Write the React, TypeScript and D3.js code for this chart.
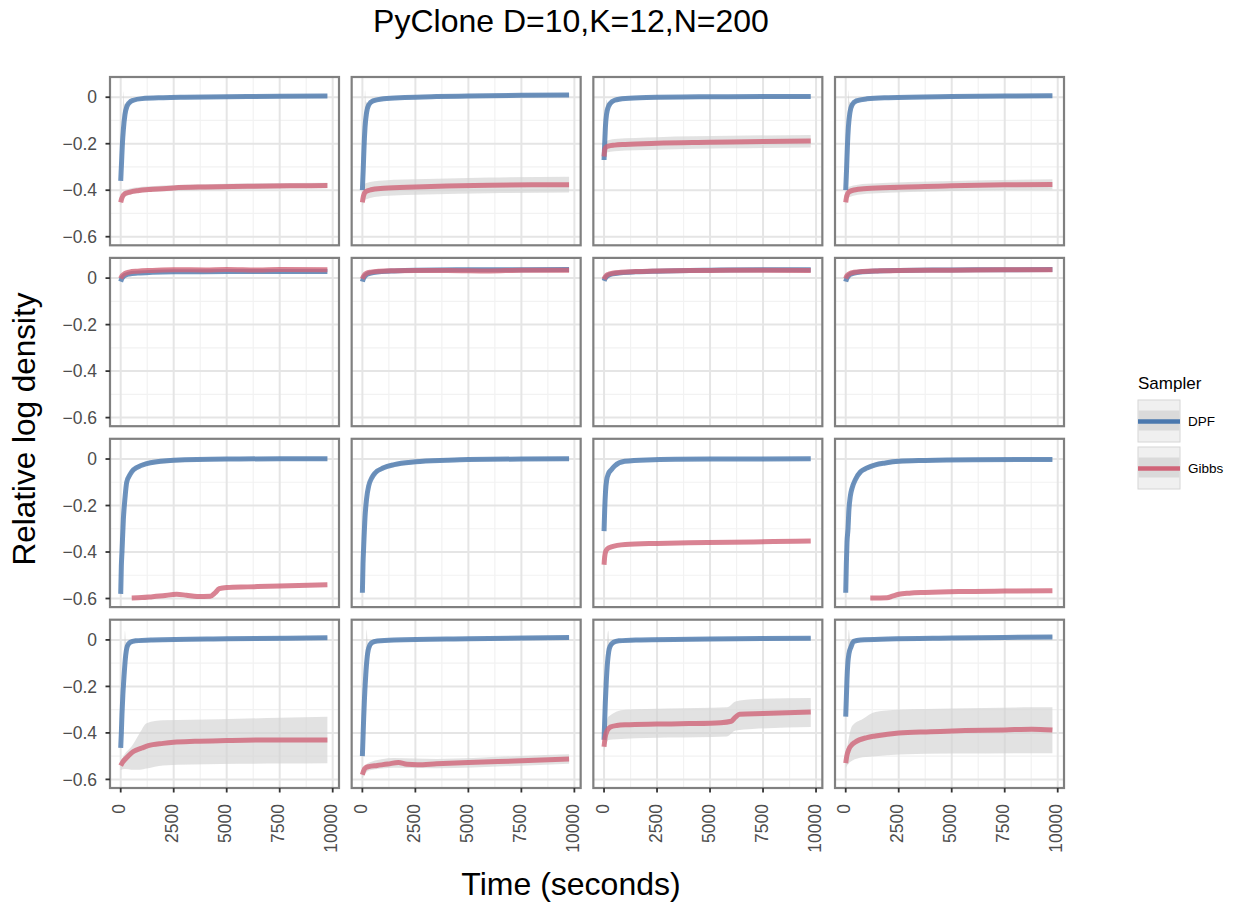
import React from "react";
import * as d3 from "d3";

type P = [number, number];
type B = [number, number, number];

const TITLE = "PyClone D=10,K=12,N=200";
const X_TITLE = "Time (seconds)";
const Y_TITLE = "Relative log density";
const X_TICKS = [0, 2500, 5000, 7500, 10000];
const X_MINOR = [1250, 3750, 6250, 8750];
const Y_TICKS = [0, -0.2, -0.4, -0.6];
const Y_MINOR = [-0.1, -0.3, -0.5];
const SAMPLERS = ["DPF", "Gibbs"];
const COLORS = ["#4a78ae", "#d06478"];

// ---- Row 1 ----
const DPF_11: P[] = [[0,-0.36],[40,-0.28],[80,-0.2],[125,-0.14],[200,-0.075],[300,-0.038],[400,-0.024],[600,-0.013],[1000,-0.006],[2000,-0.002],[3000,0],[5000,0.002],[7500,0.004],[9750,0.005]];
const DPF_11_BAND: B[] = [[0,-0.37,-0.35],[40,-0.3,-0.26],[80,-0.23,-0.15],[125,-0.17,0.025],[170,-0.11,-0.03],[250,-0.07,-0.03],[400,-0.032,-0.016],[1000,-0.012,0],[3000,-0.006,0.006],[9750,-0.002,0.012]];
const GIBBS_11: P[] = [[0,-0.452],[50,-0.435],[100,-0.425],[200,-0.415],[440,-0.408],[800,-0.402],[1500,-0.396],[2500,-0.39],[4000,-0.386],[6000,-0.383],[8000,-0.381],[9750,-0.38]];
const GIBBS_11_BAND: B[] = [[0,-0.465,-0.44],[200,-0.428,-0.4],[1000,-0.41,-0.385],[5000,-0.397,-0.372],[9750,-0.392,-0.368]];

const DPF_12: P[] = [[0,-0.4],[40,-0.31],[80,-0.21],[125,-0.13],[200,-0.065],[300,-0.033],[500,-0.016],[1000,-0.007],[2000,-0.001],[3500,0.003],[5000,0.005],[7500,0.008],[9750,0.01]];
const DPF_12_BAND: B[] = [[0,-0.41,-0.39],[40,-0.33,-0.29],[80,-0.24,-0.15],[125,-0.16,0.03],[170,-0.1,-0.02],[250,-0.06,-0.025],[500,-0.024,-0.008],[1000,-0.013,-0.001],[3000,-0.004,0.008],[9750,0.004,0.016]];
const GIBBS_12: P[] = [[0,-0.452],[50,-0.425],[150,-0.407],[400,-0.398],[1000,-0.392],[2500,-0.386],[4000,-0.382],[6000,-0.379],[8000,-0.377],[9750,-0.376]];
const GIBBS_12_BAND: B[] = [[0,-0.47,-0.435],[150,-0.44,-0.37],[1000,-0.425,-0.358],[3000,-0.418,-0.352],[6000,-0.413,-0.345],[9750,-0.41,-0.342]];

const DPF_13: P[] = [[0,-0.27],[30,-0.2],[70,-0.12],[120,-0.072],[200,-0.042],[300,-0.026],[500,-0.013],[1000,-0.005],[2000,-0.001],[5000,0.002],[7500,0.003],[9750,0.003]];
const DPF_13_BAND: B[] = [[0,-0.28,-0.26],[30,-0.22,-0.18],[70,-0.14,-0.08],[110,-0.09,-0.01],[170,-0.06,-0.025],[300,-0.034,-0.018],[1000,-0.011,0.001],[9750,-0.003,0.009]];
const GIBBS_13: P[] = [[0,-0.255],[30,-0.228],[80,-0.216],[200,-0.21],[500,-0.206],[1000,-0.203],[2500,-0.198],[5000,-0.194],[7500,-0.19],[9750,-0.188]];
const GIBBS_13_BAND: B[] = [[0,-0.27,-0.24],[80,-0.24,-0.19],[500,-0.232,-0.18],[2500,-0.226,-0.172],[6000,-0.22,-0.166],[9750,-0.216,-0.162]];

const DPF_14: P[] = [[0,-0.4],[40,-0.31],[80,-0.21],[125,-0.13],[200,-0.065],[300,-0.033],[500,-0.016],[1000,-0.007],[2000,-0.002],[5000,0.003],[7500,0.005],[9750,0.006]];
const DPF_14_BAND: B[] = [[0,-0.41,-0.39],[40,-0.33,-0.29],[80,-0.24,-0.15],[125,-0.16,0.03],[170,-0.1,-0.02],[250,-0.06,-0.025],[500,-0.024,-0.008],[1000,-0.013,-0.001],[3000,-0.006,0.006],[9750,0,0.012]];
const GIBBS_14: P[] = [[0,-0.452],[50,-0.425],[150,-0.408],[400,-0.399],[1000,-0.393],[2500,-0.387],[5000,-0.381],[7500,-0.377],[9750,-0.375]];
const GIBBS_14_BAND: B[] = [[0,-0.465,-0.44],[150,-0.43,-0.385],[1000,-0.415,-0.372],[5000,-0.403,-0.36],[9750,-0.397,-0.353]];

// ---- Row 2 ----
const DPF_21: P[] = [[0,-0.015],[40,-0.005],[100,0.004],[200,0.012],[400,0.018],[800,0.022],[1500,0.025],[2500,0.027],[5000,0.028],[7500,0.029],[9750,0.028]];
const GIBBS_21: P[] = [[0,-0.002],[40,0.006],[100,0.013],[200,0.02],[400,0.026],[800,0.03],[1500,0.033],[2500,0.036],[4000,0.035],[5000,0.037],[6500,0.035],[7500,0.037],[9750,0.036]];
const DPF_22: P[] = [[0,-0.015],[40,-0.004],[100,0.006],[200,0.015],[400,0.022],[800,0.027],[1500,0.031],[2500,0.034],[5000,0.036],[7500,0.036],[9750,0.037]];
const GIBBS_22: P[] = [[0,-0.003],[40,0.006],[100,0.014],[200,0.021],[400,0.026],[800,0.03],[1500,0.032],[2500,0.033],[4000,0.033],[6000,0.031],[7500,0.034],[9750,0.034]];
const DPF_23: P[] = [[0,-0.012],[40,-0.003],[100,0.005],[200,0.012],[400,0.018],[800,0.023],[1500,0.027],[2500,0.03],[5000,0.034],[7500,0.036],[9750,0.036]];
const GIBBS_23: P[] = [[0,-0.005],[40,0.003],[100,0.01],[200,0.016],[400,0.021],[800,0.025],[1500,0.028],[2500,0.031],[5000,0.033],[7500,0.034],[9750,0.033]];
const DPF_24: P[] = [[0,-0.015],[40,-0.004],[100,0.006],[200,0.015],[400,0.022],[800,0.027],[1500,0.031],[2500,0.033],[5000,0.035],[7500,0.036],[9750,0.037]];
const GIBBS_24: P[] = [[0,-0.002],[40,0.007],[100,0.014],[200,0.02],[400,0.025],[800,0.029],[1500,0.031],[2500,0.033],[5000,0.034],[7500,0.036],[9750,0.036]];

// ---- Row 3 ----
const DPF_31: P[] = [[0,-0.58],[30,-0.46],[60,-0.4],[125,-0.26],[200,-0.17],[283,-0.1],[450,-0.065],[600,-0.046],[1000,-0.027],[1400,-0.016],[2500,-0.005],[5000,0],[7500,0.001],[9750,0.001]];
const DPF_31_BAND: B[] = [[0,-0.59,-0.57],[60,-0.42,-0.37],[125,-0.29,-0.23],[200,-0.2,-0.14],[283,-0.12,-0.08],[600,-0.056,-0.036],[1400,-0.024,-0.008],[5000,-0.007,0.007],[9750,-0.006,0.008]];
const GIBBS_31: P[] = [[520,-0.598],[1000,-0.596],[1500,-0.592],[2000,-0.588],[2640,-0.582],[3100,-0.586],[3600,-0.591],[4230,-0.59],[4450,-0.576],[4650,-0.558],[5000,-0.553],[6000,-0.55],[7500,-0.546],[9750,-0.541]];
const DPF_32: P[] = [[0,-0.575],[30,-0.45],[60,-0.38],[125,-0.25],[200,-0.17],[300,-0.115],[450,-0.08],[600,-0.06],[1000,-0.038],[1500,-0.024],[2500,-0.012],[4000,-0.005],[5000,-0.002],[7500,0],[9750,0.001]];
const DPF_32_BAND: B[] = [[0,-0.585,-0.565],[60,-0.4,-0.35],[125,-0.28,-0.22],[200,-0.2,-0.14],[300,-0.135,-0.095],[600,-0.07,-0.05],[1500,-0.032,-0.016],[5000,-0.009,0.005],[9750,-0.006,0.008]];
const DPF_33: P[] = [[0,-0.31],[30,-0.22],[70,-0.14],[125,-0.09],[200,-0.065],[344,-0.046],[500,-0.03],[973,-0.01],[2000,-0.004],[5000,0],[9750,0.001]];
const GIBBS_33: P[] = [[0,-0.455],[30,-0.42],[80,-0.397],[150,-0.387],[344,-0.378],[1000,-0.368],[2500,-0.363],[4000,-0.36],[6000,-0.358],[8000,-0.355],[9750,-0.353]];
const DPF_34: P[] = [[0,-0.575],[30,-0.45],[60,-0.36],[108,-0.3],[150,-0.22],[217,-0.16],[300,-0.125],[453,-0.089],[700,-0.055],[1000,-0.039],[1400,-0.025],[1868,-0.017],[2500,-0.01],[3750,-0.006],[6000,-0.003],[9750,-0.002]];
const DPF_34_BAND: B[] = [[0,-0.585,-0.565],[60,-0.38,-0.33],[150,-0.24,-0.19],[300,-0.14,-0.105],[700,-0.065,-0.045],[1868,-0.025,-0.009],[6000,-0.01,0.004],[9750,-0.009,0.005]];
const GIBBS_34: P[] = [[1160,-0.598],[1950,-0.597],[2200,-0.59],[2500,-0.582],[3000,-0.577],[3750,-0.574],[5330,-0.57],[7500,-0.568],[9750,-0.567]];

// ---- Row 4 ----
const DPF_41: P[] = [[0,-0.464],[30,-0.4],[60,-0.32],[100,-0.24],[157,-0.156],[220,-0.08],[314,-0.027],[450,-0.01],[700,-0.004],[1500,0],[5000,0.005],[9750,0.009]];
const DPF_41_BAND: B[] = [[0,-0.474,-0.454],[60,-0.34,-0.3],[100,-0.26,-0.2],[160,-0.18,-0.05],[200,-0.12,0.04],[250,-0.07,-0.01],[314,-0.037,-0.017],[700,-0.01,0.002],[9750,0.003,0.015]];
const GIBBS_41: P[] = [[0,-0.541],[100,-0.525],[300,-0.505],[600,-0.48],[1000,-0.465],[1300,-0.455],[2000,-0.445],[2500,-0.44],[3500,-0.436],[5000,-0.433],[7500,-0.43],[9750,-0.43]];
const GIBBS_41_BAND: B[] = [[0,-0.56,-0.52],[200,-0.555,-0.49],[500,-0.558,-0.46],[900,-0.558,-0.4],[1226,-0.553,-0.358],[2000,-0.54,-0.346],[4700,-0.534,-0.341],[7500,-0.532,-0.335],[9750,-0.53,-0.33]];

const DPF_42: P[] = [[0,-0.5],[30,-0.42],[60,-0.34],[100,-0.25],[160,-0.15],[220,-0.08],[300,-0.035],[450,-0.012],[700,-0.005],[1500,0],[5000,0.005],[9750,0.01]];
const DPF_42_BAND: B[] = [[0,-0.51,-0.49],[60,-0.36,-0.32],[100,-0.27,-0.2],[160,-0.17,-0.03],[200,-0.12,0.045],[250,-0.08,-0.01],[300,-0.045,-0.025],[700,-0.011,0.001],[9750,0.004,0.016]];
const GIBBS_42: P[] = [[0,-0.58],[50,-0.565],[150,-0.55],[300,-0.545],[700,-0.54],[1200,-0.534],[1700,-0.527],[2100,-0.535],[2600,-0.537],[3500,-0.533],[5000,-0.527],[7500,-0.52],[9750,-0.512]];
const GIBBS_42_BAND: B[] = [[0,-0.595,-0.565],[300,-0.562,-0.528],[1500,-0.55,-0.508],[3500,-0.552,-0.512],[7500,-0.541,-0.499],[9750,-0.533,-0.492]];

const DPF_43: P[] = [[0,-0.43],[30,-0.35],[60,-0.27],[100,-0.19],[160,-0.1],[220,-0.05],[300,-0.025],[450,-0.01],[700,-0.004],[1500,0],[5000,0.004],[9750,0.007]];
const DPF_43_BAND: B[] = [[0,-0.44,-0.42],[60,-0.29,-0.25],[100,-0.21,-0.15],[160,-0.12,0.02],[200,-0.08,0.04],[250,-0.05,-0.01],[300,-0.035,-0.015],[700,-0.01,0.002],[9750,0.001,0.013]];
const GIBBS_43: P[] = [[0,-0.46],[50,-0.42],[150,-0.39],[300,-0.375],[600,-0.368],[1000,-0.365],[2500,-0.362],[4000,-0.36],[5500,-0.356],[6000,-0.35],[6200,-0.332],[6400,-0.32],[7500,-0.317],[9750,-0.31]];
const GIBBS_43_BAND: B[] = [[0,-0.48,-0.44],[200,-0.43,-0.33],[1000,-0.425,-0.3],[3000,-0.42,-0.295],[5800,-0.415,-0.29],[6200,-0.39,-0.265],[7000,-0.383,-0.255],[9750,-0.375,-0.25]];

const DPF_44: P[] = [[0,-0.33],[30,-0.25],[60,-0.17],[100,-0.1],[150,-0.06],[250,-0.03],[377,-0.006],[700,0],[2000,0.004],[5000,0.008],[9750,0.013]];
const DPF_44_BAND: B[] = [[0,-0.34,-0.32],[60,-0.19,-0.13],[100,-0.13,-0.02],[150,-0.08,0.044],[210,-0.05,-0.005],[377,-0.014,0.002],[700,-0.006,0.006],[9750,0.007,0.019]];
const GIBBS_44: P[] = [[0,-0.53],[50,-0.5],[150,-0.47],[300,-0.45],[440,-0.44],[1000,-0.42],[1400,-0.413],[2500,-0.4],[4000,-0.395],[5640,-0.39],[7500,-0.387],[8780,-0.384],[9750,-0.388]];
const GIBBS_44_BAND: B[] = [[0,-0.55,-0.5],[150,-0.53,-0.42],[300,-0.52,-0.37],[800,-0.505,-0.34],[1400,-0.5,-0.31],[2500,-0.493,-0.3],[5000,-0.489,-0.295],[8780,-0.487,-0.29],[9750,-0.487,-0.29]];

type Panel = { dpf: P[]; dpfBand: B[] | null; gibbs: P[] | null; gibbsBand: B[] | null };

const PANELS: Panel[][] = [
  [
    { dpf: DPF_11, dpfBand: DPF_11_BAND, gibbs: GIBBS_11, gibbsBand: GIBBS_11_BAND },
    { dpf: DPF_12, dpfBand: DPF_12_BAND, gibbs: GIBBS_12, gibbsBand: GIBBS_12_BAND },
    { dpf: DPF_13, dpfBand: DPF_13_BAND, gibbs: GIBBS_13, gibbsBand: GIBBS_13_BAND },
    { dpf: DPF_14, dpfBand: DPF_14_BAND, gibbs: GIBBS_14, gibbsBand: GIBBS_14_BAND },
  ],
  [
    { dpf: DPF_21, dpfBand: null, gibbs: GIBBS_21, gibbsBand: null },
    { dpf: DPF_22, dpfBand: null, gibbs: GIBBS_22, gibbsBand: null },
    { dpf: DPF_23, dpfBand: null, gibbs: GIBBS_23, gibbsBand: null },
    { dpf: DPF_24, dpfBand: null, gibbs: GIBBS_24, gibbsBand: null },
  ],
  [
    { dpf: DPF_31, dpfBand: DPF_31_BAND, gibbs: GIBBS_31, gibbsBand: null },
    { dpf: DPF_32, dpfBand: DPF_32_BAND, gibbs: null, gibbsBand: null },
    { dpf: DPF_33, dpfBand: null, gibbs: GIBBS_33, gibbsBand: null },
    { dpf: DPF_34, dpfBand: DPF_34_BAND, gibbs: GIBBS_34, gibbsBand: null },
  ],
  [
    { dpf: DPF_41, dpfBand: DPF_41_BAND, gibbs: GIBBS_41, gibbsBand: GIBBS_41_BAND },
    { dpf: DPF_42, dpfBand: DPF_42_BAND, gibbs: GIBBS_42, gibbsBand: GIBBS_42_BAND },
    { dpf: DPF_43, dpfBand: DPF_43_BAND, gibbs: GIBBS_43, gibbsBand: GIBBS_43_BAND },
    { dpf: DPF_44, dpfBand: DPF_44_BAND, gibbs: GIBBS_44, gibbsBand: GIBBS_44_BAND },
  ],
];

const FONT = "'Liberation Sans', Arial, Helvetica, sans-serif";

function fmtY(v: number) {
  if (v === 0) return "0";
  const s = Math.abs(v).toFixed(1);
  return (v < 0 ? "\u2212" : "") + s;
}

export default function App() {
  const W = 1244, H = 907;
  const left0 = 110, top0 = 77;
  const pw = 229, ph = 168.3;
  const gx = 12.67, gy = 12.6;
  const x = d3.scaleLinear().domain([-505, 10297]).range([0, pw]);
  const y = d3.scaleLinear().domain([-0.637, 0.087]).range([ph, 0]);
  const line = d3.line<P>().x(d => x(d[0])).y(d => y(d[1])).curve(d3.curveMonotoneX);
  const area = d3.area<B>().x(d => x(d[0])).y0(d => y(d[1])).y1(d => y(d[2])).curve(d3.curveMonotoneX);
  const bandFill = "#d2d2d2";
  const bandOpacity = 0.65;
  const lineW = 5;
  const lineOp = 0.8;
  const tickColor = "#333333";
  const textColor = "#4d4d4d";

  const panels: JSX.Element[] = [];
  PANELS.forEach((row, r) => {
    row.forEach((p, c) => {
      const px = left0 + c * (pw + gx);
      const py = top0 + r * (ph + gy);
      const id = `clip-${r}-${c}`;
      panels.push(
        <g key={id} transform={`translate(${px},${py})`}>
          <defs>
            <clipPath id={id}>
              <rect x={0} y={0} width={pw} height={ph} />
            </clipPath>
          </defs>
          <rect x={0} y={0} width={pw} height={ph} fill="#ffffff" />
          <g clipPath={`url(#${id})`}>
            {X_MINOR.map(t => (
              <line key={`xm${t}`} x1={x(t)} x2={x(t)} y1={0} y2={ph} stroke="#f2f2f2" strokeWidth={1.2} />
            ))}
            {Y_MINOR.map(t => (
              <line key={`ym${t}`} x1={0} x2={pw} y1={y(t)} y2={y(t)} stroke="#f2f2f2" strokeWidth={1.2} />
            ))}
            {X_TICKS.map(t => (
              <line key={`xM${t}`} x1={x(t)} x2={x(t)} y1={0} y2={ph} stroke="#e5e5e5" strokeWidth={2} />
            ))}
            {Y_TICKS.map(t => (
              <line key={`yM${t}`} x1={0} x2={pw} y1={y(t)} y2={y(t)} stroke="#e5e5e5" strokeWidth={2} />
            ))}
            {p.dpfBand && <path d={area(p.dpfBand) || ""} fill={bandFill} fillOpacity={bandOpacity} />}
            {p.gibbsBand && <path d={area(p.gibbsBand) || ""} fill={bandFill} fillOpacity={bandOpacity} />}
            <path d={line(p.dpf) || ""} fill="none" stroke={COLORS[0]} strokeOpacity={lineOp} strokeWidth={lineW} />
            {p.gibbs && (
              <path d={line(p.gibbs) || ""} fill="none" stroke={COLORS[1]} strokeOpacity={lineOp} strokeWidth={lineW} />
            )}
          </g>
          <rect x={0} y={0} width={pw} height={ph} fill="none" stroke="#808080" strokeWidth={2.2} />
          {c === 0 &&
            Y_TICKS.map(t => (
              <g key={`yt${t}`}>
                <line x1={-4.5} x2={0} y1={y(t)} y2={y(t)} stroke={tickColor} strokeWidth={1.8} />
                <text x={-13} y={y(t)} dy="0.35em" textAnchor="end" fontSize={17.5} fill={textColor} fontFamily={FONT}>
                  {fmtY(t)}
                </text>
              </g>
            ))}
          {r === 3 &&
            X_TICKS.map(t => (
              <g key={`xt${t}`}>
                <line x1={x(t)} x2={x(t)} y1={ph} y2={ph + 4.5} stroke={tickColor} strokeWidth={1.8} />
                <text
                  transform={`translate(${x(t) + 4.5},${ph + 16}) rotate(-90)`}
                  textAnchor="end"
                  fontSize={17.5}
                  fill={textColor}
                  fontFamily={FONT}
                >
                  {String(t)}
                </text>
              </g>
            ))}
        </g>
      );
    });
  });

  const legX = 1138, legY = 400, keyW = 42, keyH = 42, keyGap = 5;

  return (
    <svg width={W} height={H} style={{ position: "absolute", left: 0, top: 0, background: "#ffffff" }} fontFamily={FONT}>
      <rect x={0} y={0} width={W} height={H} fill="#ffffff" />
      <text x={571} y={32} textAnchor="middle" fontSize={32} fill="#000000">{TITLE}</text>
      {panels}
      <text x={571} y={895} textAnchor="middle" fontSize={32} fill="#000000">{X_TITLE}</text>
      <text transform={`translate(35,429) rotate(-90)`} textAnchor="middle" fontSize={31.5} fill="#000000">{Y_TITLE}</text>
      <g>
        <text x={legX} y={389} fontSize={17} fill="#000000">Sampler</text>
        {SAMPLERS.map((s, i) => {
          const ky = legY + i * (keyH + keyGap);
          return (
            <g key={s}>
              <rect x={legX} y={ky} width={keyW} height={keyH} fill="#f0f0f0" stroke="#d6d6d6" strokeWidth={1} />
              <rect x={legX + 0.5} y={ky + 10.5} width={keyW - 1} height={20} fill="#dadada" />
              <line x1={legX} x2={legX + keyW} y1={ky + 21.5} y2={ky + 21.5} stroke={COLORS[i]} strokeWidth={4.5} />
              <text x={legX + 50} y={ky + 21.5} dy="0.35em" fontSize={13.5} fill="#000000">{s}</text>
            </g>
          );
        })}
      </g>
    </svg>
  );
}
